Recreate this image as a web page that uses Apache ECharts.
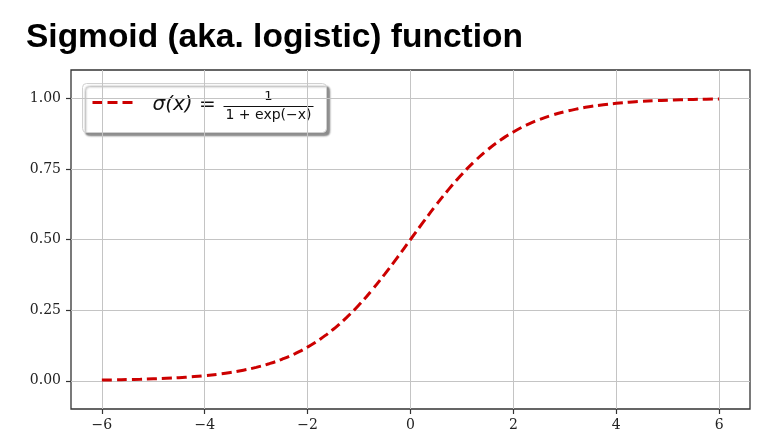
<!DOCTYPE html>
<html><head><meta charset="utf-8">
<script src="https://cdn.jsdelivr.net/npm/echarts@6/dist/echarts.min.js"></script>
<style>html,body{margin:0;padding:0;background:#fff}#c{width:779px;height:445px}</style>
</head><body><div id="c"></div>
<script>
var xValues = [-6,-5.75,-5.5,-5.25,-5,-4.75,-4.5,-4.25,-4,-3.75,-3.5,-3.25,-3,-2.75,-2.5,-2.25,-2,-1.75,-1.5,-1.25,-1,-0.75,-0.5,-0.25,0,0.25,0.5,0.75,1,1.25,1.5,1.75,2,2.25,2.5,2.75,3,3.25,3.5,3.75,4,4.25,4.5,4.75,5,5.25,5.5,5.75,6];
var sigmaValues = [0.0025,0.0032,0.0041,0.0052,0.0067,0.0086,0.0110,0.0141,0.0180,0.0230,0.0293,0.0373,0.0474,0.0601,0.0759,0.0953,0.1192,0.1480,0.1824,0.2227,0.2689,0.3208,0.3775,0.4378,0.5000,0.5622,0.6225,0.6792,0.7311,0.7773,0.8176,0.8520,0.8808,0.9047,0.9241,0.9399,0.9526,0.9627,0.9707,0.9770,0.9820,0.9859,0.9890,0.9914,0.9933,0.9948,0.9959,0.9968,0.9975];
var xTicks = [-6,-4,-2,0,2,4,6];
var yTicks = [0,0.25,0.5,0.75,1.0];
var titleText = 'Sigmoid (aka. logistic) function';

var pts = xValues.map(function(x,i){return [x, sigmaValues[i]];});
var labelFont = {fontFamily:'DejaVu Serif, serif', fontSize:14, color:'#222'};
var chart = echarts.init(document.getElementById('c'));
chart.setOption({
  animation:false,
  title:{text:titleText,left:21,top:16,textStyle:{fontFamily:'Liberation Sans, Arial, sans-serif',fontWeight:'bold',fontSize:33.5,color:'#000'}},
  grid:{left:71,right:29,top:70,bottom:36,show:true,borderColor:'#333',borderWidth:1.3},
  xAxis:{type:'value',min:-6.6,max:6.6,
    axisLine:{show:false,onZero:false},
    axisTick:{show:true,length:5,customValues:xTicks,lineStyle:{color:'#333',width:1.2}},
    axisLabel:Object.assign({customValues:xTicks,margin:9,formatter:function(v){return (v<0?'\u2212':'')+Math.abs(v);}},labelFont),
    splitLine:{show:true,lineStyle:{color:'#c4c4c4',width:1}}},
  yAxis:{type:'value',min:-0.1,max:1.1,
    axisLine:{show:false,onZero:false},
    axisTick:{show:true,length:5,customValues:yTicks,lineStyle:{color:'#333',width:1.2}},
    axisLabel:Object.assign({customValues:yTicks,margin:10,formatter:function(v){return v.toFixed(2);}},labelFont),
    splitLine:{show:true,lineStyle:{color:'#c4c4c4',width:1}}},
  series:[{type:'line',data:pts,smooth:true,showSymbol:false,
    lineStyle:{color:'#cc0000',width:3,type:[10,5]}}],
  graphic:[{type:'group',left:82,top:83,children:[
    {type:'rect',shape:{x:0,y:0,width:244,height:49,r:4},style:{fill:'#fff',stroke:'#d0d0d0',lineWidth:1,shadowColor:'rgba(0,0,0,0.45)',shadowOffsetX:3,shadowOffsetY:3,shadowBlur:2}},
    {type:'line',shape:{x1:10,y1:19,x2:53,y2:19},style:{stroke:'#cc0000',lineWidth:3,lineDash:[10,5]}},
    {type:'text',x:70,y:21,style:{text:'\u03c3(x) =',fontFamily:'DejaVu Sans',fontStyle:'italic',fontSize:20,fill:'#111',verticalAlign:'middle'}},
    {type:'text',x:186,y:13,style:{text:'1',fontFamily:'DejaVu Sans',fontSize:13,fill:'#111',align:'center',verticalAlign:'middle'}},
    {type:'line',shape:{x1:141,y1:23,x2:231,y2:23},style:{stroke:'#111',lineWidth:1}},
    {type:'text',x:186,y:32,style:{text:'1 + exp(\u2212x)',fontFamily:'DejaVu Sans',fontSize:14,fill:'#111',align:'center',verticalAlign:'middle'}}
  ]}]
});
</script></body></html>
